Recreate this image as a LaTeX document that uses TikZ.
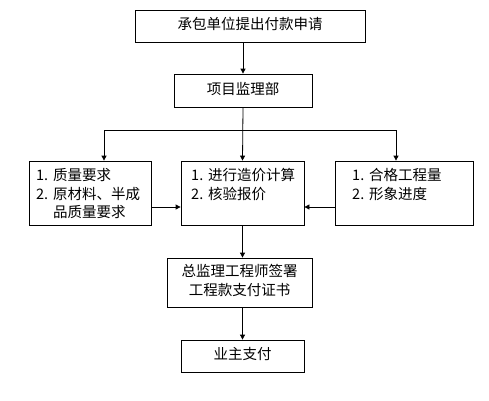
\documentclass[tikz,border=0pt]{standalone}
\usepackage{fontspec}
\setmainfont{Noto Sans CJK SC}
\usetikzlibrary{arrows.meta}
\tikzset{
  box/.style={draw=black, line width=0.8bp, inner sep=0pt, text height=0.88em, text depth=0.12em, font=\fontsize{14.5bp}{17bp}\selectfont},
  txt/.style={inner sep=0pt, anchor=west, text height=0.88em, text depth=0.12em, font=\fontsize{14.5bp}{17bp}\selectfont},
  ctxt/.style={inner sep=0pt, text height=0.88em, text depth=0.12em, font=\fontsize{14.5bp}{17bp}\selectfont},
  conn/.style={line width=0.8bp, draw=black},
  arr/.style={conn, -{Triangle[length=5bp,width=5bp]}}
}
\newcommand{\num}[1]{\makebox[17bp][l]{#1}}
\begin{document}
\begin{tikzpicture}[x=1bp,y=-1bp]
\useasboundingbox (0,0) rectangle (489,400);
\fill[white] (0,0) rectangle (489,400);
% boxes
\node[box, minimum width=230bp, minimum height=32bp] (b1) at (250,26) {承包单位提出付款申请};
\node[box, minimum width=138bp, minimum height=33bp] (b2) at (243,90.5) {项目监理部};
\node[box, minimum width=122bp, minimum height=64bp] (bl) at (90,193) {};
\node[box, minimum width=123bp, minimum height=64bp] (bm) at (242.5,193) {};
\node[box, minimum width=138bp, minimum height=64bp] (br) at (404,193) {};
\node[box, minimum width=145bp, minimum height=49bp] (b4) at (239.5,282.5) {};
\node[box, minimum width=123bp, minimum height=32bp] (b5) at (242.5,356) {业主支付};
% texts
\node[txt] (tl1) at (36,177) {\num{1.}质量要求};
\node[txt] (tl2) at (36,196) {\num{2.}原材料、半成};
\node[txt] (tl3) at (36,214) {\num{}品质量要求};
\node[txt] (tm1) at (191,177) {\num{1.}进行造价计算};
\node[txt] (tm2) at (191,196) {\num{2.}核验报价};
\node[txt] (tr1) at (352,177) {\num{1.}合格工程量};
\node[txt] (tr2) at (352,196) {\num{2.}形象进度};
\node[ctxt] (t41) at (239.5,273) {总监理工程师签署};
\node[ctxt] (t42) at (239.5,292) {工程款支付证书};
% connectors
\coordinate (jl) at (104,130);
\coordinate (jr) at (396,130);
\coordinate (ya) at (0,207);
\draw[arr] (b2.north |- b1.south) -- (b2.north);
\draw[arr] (b2.south) -- (bm.north);
\draw[conn] (jl) -- (jr);
\draw[arr] (jl) -- (jl |- bl.north);
\draw[arr] (jr) -- (jr |- br.north);
\draw[arr] (bl.east |- ya) -- (bm.west |- ya);
\draw[arr] (br.west |- ya) -- (bm.east |- ya);
\draw[arr] (bm.south) -- (bm.south |- b4.north);
\draw[arr] (b5.north |- b4.south) -- (b5.north);
\end{tikzpicture}
\end{document}
